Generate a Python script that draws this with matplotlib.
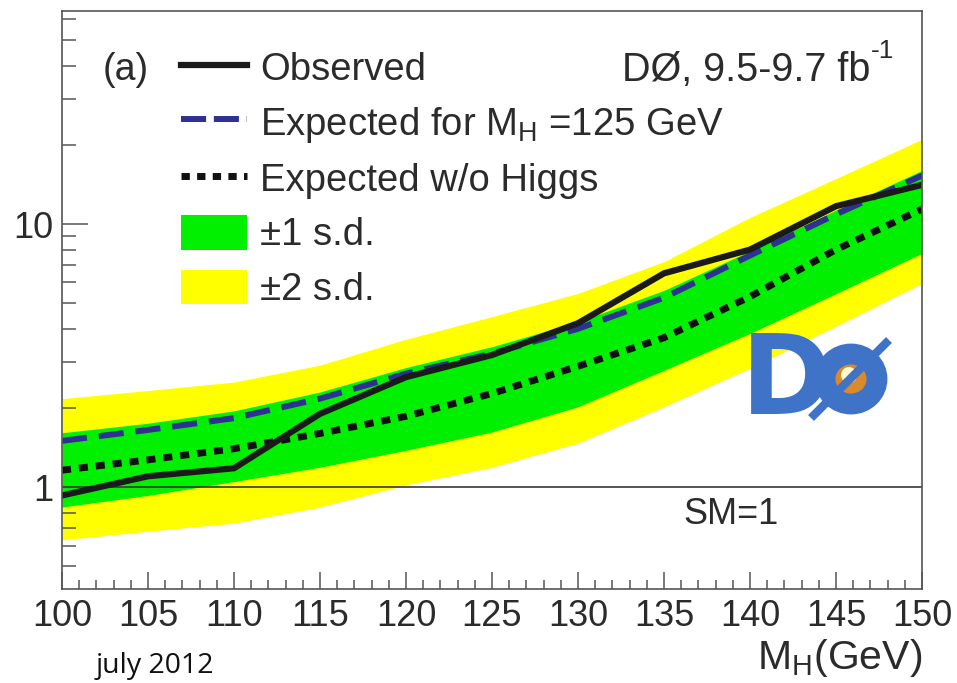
import matplotlib
matplotlib.use("Agg")
import matplotlib.pyplot as plt
from matplotlib.lines import Line2D
from matplotlib.patches import Patch, Ellipse
from matplotlib.ticker import FixedLocator, NullFormatter, FixedFormatter

plt.rcParams['font.family'] = ['Liberation Sans', 'DejaVu Sans']
plt.rcParams['mathtext.fontset'] = 'custom'
plt.rcParams['mathtext.rm'] = 'Liberation Sans'
plt.rcParams['mathtext.it'] = 'Liberation Sans:italic'

# ---------------- data ----------------
mass = [100, 105, 110, 115, 120, 125, 130, 135, 140, 145, 150]
observed = [0.93, 1.10, 1.18, 1.90, 2.62, 3.18, 4.2, 6.5, 8.0, 11.7, 14.1]
exp_h125 = [1.50, 1.65, 1.83, 2.17, 2.70, 3.22, 4.0, 5.25, 7.6, 10.9, 15.3]
exp_bkg = [1.16, 1.27, 1.40, 1.60, 1.86, 2.27, 2.88, 3.7, 5.3, 8.0, 11.4]
band1_lo = [0.84, 0.93, 1.05, 1.19, 1.38, 1.62, 2.02, 2.78, 3.84, 5.44, 7.74]
band1_hi = [1.61, 1.75, 1.95, 2.30, 2.85, 3.42, 4.25, 5.6, 7.9, 11.3, 16.0]
band2_lo = [0.63, 0.68, 0.73, 0.84, 1.02, 1.19, 1.47, 2.02, 2.83, 4.09, 5.95]
band2_hi = [2.17, 2.33, 2.51, 2.91, 3.65, 4.45, 5.45, 7.2, 10.6, 14.9, 21.0]

x_major = [100, 105, 110, 115, 120, 125, 130, 135, 140, 145, 150]
x_labels = ['100', '105', '110', '115', '120', '125', '130', '135', '140', '145', '150']
y_major = [1, 10]
y_labels = ['1', '10']
y_minor = [0.5, 0.6, 0.7, 0.8, 0.9, 2, 3, 4, 5, 6, 7, 8, 9, 20, 30, 40, 50, 60]

W, H = 957, 683
def fx(px):
    return px / W
def fy(py):
    return 1 - py / H

TXT = '#2b2b2b'
GREEN = '#00f000'
YELLOW = '#ffff00'
BLUE = '#2e3192'
LOGO = '#3f73c8'

fig = plt.figure(figsize=(W / 100, H / 100), dpi=100)
ax = fig.add_axes([fx(62), fy(589), (922 - 62) / W, (589 - 11) / H])

ax.fill_between(mass, band2_lo, band2_hi, color=YELLOW, lw=0, zorder=1)
ax.fill_between(mass, band1_lo, band1_hi, color=GREEN, lw=0, zorder=2)
ax.axhline(1.0, color='#3a3a3a', lw=1.2, zorder=3)
ax.plot(mass, exp_bkg, color='#111111', lw=5.0, linestyle=(0, (1.3, 1.15)),
        dash_capstyle='butt', zorder=4)
ax.plot(mass, exp_h125, color=BLUE, lw=4.3, linestyle=(0, (4.2, 2.0)),
        dash_capstyle='butt', zorder=5)
ax.plot(mass, observed, color='#1a1a1a', lw=4.5, solid_joinstyle='miter', zorder=6)

ax.set_yscale('log')
ax.set_xlim(100, 150)
ax.set_ylim(0.41, 64.6)

ax.xaxis.set_major_locator(FixedLocator(x_major))
ax.xaxis.set_major_formatter(FixedFormatter(x_labels))
ax.xaxis.set_minor_locator(FixedLocator(list(range(100, 151))))
ax.xaxis.set_minor_formatter(NullFormatter())
ax.yaxis.set_major_locator(FixedLocator(y_major))
ax.yaxis.set_major_formatter(FixedFormatter(y_labels))
ax.yaxis.set_minor_locator(FixedLocator(y_minor))
ax.yaxis.set_minor_formatter(NullFormatter())

FR = '#555555'
for s in ax.spines.values():
    s.set_color(FR)
    s.set_linewidth(1.2)
    s.set_zorder(10)
ax.tick_params(axis='both', which='both', direction='in', color=FR, width=1.1,
               top=False, right=False, labelcolor=TXT, labelsize=26)
ax.tick_params(axis='y', which='major', length=18.5, pad=6)
ax.tick_params(axis='y', which='minor', length=10)
ax.tick_params(axis='x', which='major', length=12, pad=7)
ax.tick_params(axis='x', which='minor', length=6.5)

ax.set_xlabel(r'M$_\mathrm{H}$(GeV)', fontsize=29.5, color=TXT, ha='right')
ax.xaxis.set_label_coords(1.0, -0.083)

# legend
handles = [
    Line2D([], [], color='#1a1a1a', lw=4.5),
    Line2D([], [], color=BLUE, lw=4.3, linestyle=(0, (4.2, 1.3)), dash_capstyle='butt'),
    Line2D([], [], color='#111111', lw=5.0, linestyle=(0, (1.2, 1.05)), dash_capstyle='butt'),
    Patch(facecolor=GREEN, edgecolor='none'),
    Patch(facecolor=YELLOW, edgecolor='none'),
]
labels = ['Observed', r'Expected for M$_\mathrm{H}$ =125 GeV', 'Expected w/o Higgs',
          '±1 s.d.', '±2 s.d.']
leg = ax.legend(handles, labels, loc='upper left', bbox_to_anchor=(0.1384, 0.933),
                frameon=False, fontsize=27.5, handlelength=1.73, handleheight=1.02,
                handletextpad=0.34, labelspacing=0.42, borderpad=0, borderaxespad=0)
for t in leg.get_texts():
    t.set_color(TXT)
leg.set_zorder(12)

ax.text(fx(103), fy(70), '(a)', transform=fig.transFigure, fontsize=27,
        color=TXT, ha='left', va='center')
ax.text(fx(870), fy(81), 'DØ, 9.5-9.7 fb', transform=fig.transFigure,
        fontsize=28.5, color=TXT, ha='right', va='baseline')
ax.text(fx(871), fy(58), '-1', transform=fig.transFigure,
        fontsize=19, color=TXT, ha='left', va='baseline')
ax.text(fx(683), fy(515), 'SM=1', transform=fig.transFigure, fontsize=26,
        color=TXT, ha='left', va='center')

# logo (DØ)
fig.text(fx(741), fy(414), 'D', fontsize=79, fontweight='bold', color=LOGO,
         family='DejaVu Sans', ha='left', va='baseline', zorder=20)
fig.add_artist(Ellipse((fx(851), fy(379)), 52 / W, 50 / H, transform=fig.transFigure,
                       facecolor='#d98a2b', edgecolor=LOGO, lw=15, zorder=21))
fig.add_artist(Ellipse((fx(849), fy(375)), 16 / W, 16 / H, transform=fig.transFigure,
                       facecolor='#fff8d0', edgecolor='none', zorder=22))
fig.add_artist(Line2D([fx(811), fx(889)], [fy(418), fy(340)], transform=fig.transFigure,
                      color=LOGO, lw=6, solid_capstyle='butt', zorder=23))

fig.text(fx(96), fy(673), 'july 2012', fontsize=20.5, color='#111111',
         family='Open Sans', ha='left', va='baseline')

fig.savefig('out.png', dpi=100)
